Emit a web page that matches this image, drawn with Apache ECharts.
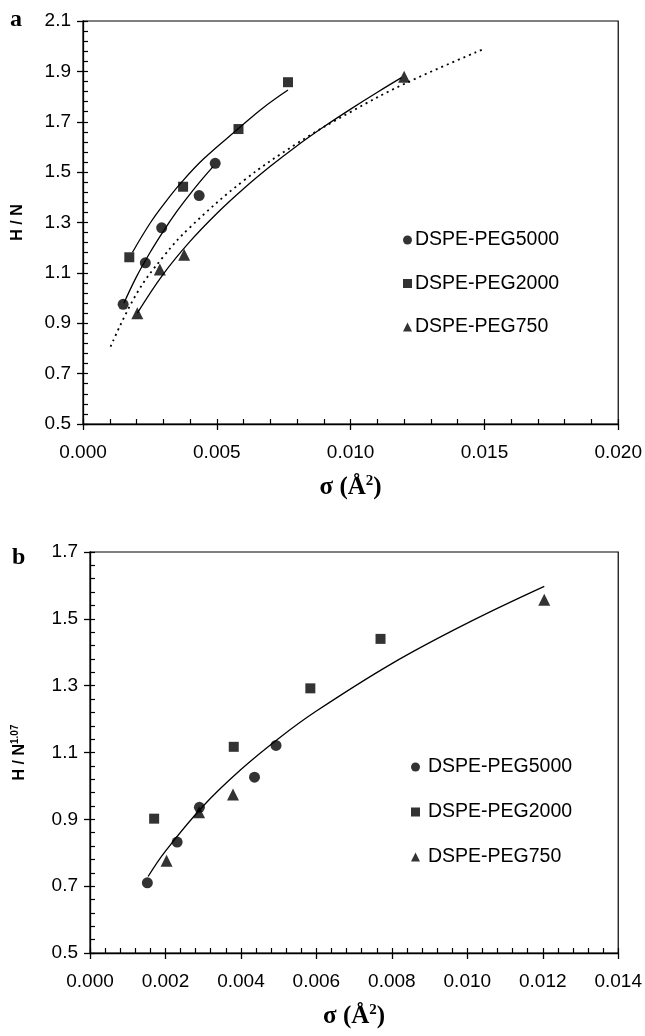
<!DOCTYPE html>
<html><head><meta charset="utf-8">
<script src="https://cdn.jsdelivr.net/npm/echarts@6/dist/echarts.min.js"></script>
<style>html,body{margin:0;padding:0;background:#fff}#c{width:645px;height:1036px}</style>
</head><body><div id="c"></div>
<script>
const seriesNames = ['DSPE-PEG5000', 'DSPE-PEG2000', 'DSPE-PEG750'];

// Panel a: H / N vs sigma
const a_peg5000 = [[0.00150,0.975],[0.00233,1.140],[0.00294,1.279],[0.00434,1.407],[0.00494,1.535]];
const a_peg2000 = [[0.00173,1.162],[0.00374,1.442],[0.00581,1.671],[0.00766,1.857]];
const a_peg750  = [[0.00203,0.940],[0.00287,1.113],[0.00378,1.172],[0.01200,1.879]];
const a_fit5000 = [[0.00153,0.980],[0.0020,1.085],[0.0025,1.180],[0.0030,1.265],[0.0035,1.343],[0.0040,1.413],[0.0045,1.478],[0.00486,1.522]];
const a_fit2000 = [[0.00185,1.182],[0.0025,1.296],[0.0030,1.370],[0.0037,1.462],[0.0045,1.552],[0.0058,1.672],[0.0067,1.753],[0.00766,1.826]];
const a_fit750  = [[0.00203,0.940],[0.0030,1.095],[0.0040,1.225],[0.0050,1.336],[0.0060,1.434],[0.0070,1.523],[0.0080,1.605],[0.0090,1.680],[0.0100,1.750],[0.0110,1.817],[0.0119,1.875]];
const a_fitAll  = [[0.00103,0.807],[0.0020,1.017],[0.0030,1.164],[0.0040,1.281],[0.0060,1.466],[0.0080,1.614],[0.0100,1.739],[0.0120,1.850],[0.0150,1.990]];
const a_xTicks = [0, 0.005, 0.010, 0.015, 0.020];
const a_yTicks = [0.5, 0.7, 0.9, 1.1, 1.3, 1.5, 1.7, 1.9, 2.1];

// Panel b: H / N^1.07 vs sigma
const b_peg5000 = [[0.00152,0.710],[0.00231,0.832],[0.00290,0.936],[0.00436,1.026],[0.00493,1.121]];
const b_peg2000 = [[0.00170,0.902],[0.00381,1.117],[0.00584,1.292],[0.00770,1.440]];
const b_peg750  = [[0.00203,0.776],[0.00289,0.921],[0.00379,0.974],[0.01204,1.557]];
const b_fit     = [[0.00154,0.729],[0.0020,0.805],[0.0030,0.940],[0.0040,1.049],[0.0050,1.142],[0.0060,1.224],[0.0080,1.366],[0.0100,1.487],[0.01204,1.597]];
const b_xTicks = [0, 0.002, 0.004, 0.006, 0.008, 0.010, 0.012, 0.014];
const b_yTicks = [0.5, 0.7, 0.9, 1.1, 1.3, 1.5, 1.7];

function minorOf(t) {
  const out = [];
  for (let i = 0; i < t.length - 1; i++) {
    for (let k = 0; k < 5; k++) out.push(+(t[i] + (t[i+1]-t[i]) * k / 5).toFixed(6));
  }
  out.push(t[t.length-1]);
  return out;
}

const FONT = 'Liberation Sans';
const SERIF = 'Liberation Serif';
const lblStyle = {color:'#000', fontSize:19, fontFamily:FONT};
const xNameRich = {
  s:{fontFamily:SERIF, fontWeight:'bold', fontSize:25, color:'#000'},
  sup:{fontFamily:SERIF, fontWeight:'bold', fontSize:15, color:'#000', verticalAlign:'top', padding:[0,0,12,0]}
};

function xMain(grid, ticks, dec) {
  return {gridIndex:grid, type:'value', min:ticks[0], max:ticks[ticks.length-1], position:'bottom',
    axisLine:{show:true, onZero:false, lineStyle:{color:'#000', width:1.3}},
    axisTick:{show:true, inside:false, length:6, customValues:ticks, lineStyle:{color:'#000', width:1.3}},
    axisLabel:{customValues:ticks, margin:19, formatter:v=>v.toFixed(dec), ...lblStyle},
    splitLine:{show:false},
    name:'{s|σ (Å}{sup|2}{s|)}', nameLocation:'middle', nameGap:50,
    nameTextStyle:{rich:xNameRich}};
}
function xMinor(grid, ticks) {
  return {gridIndex:grid, type:'value', min:ticks[0], max:ticks[ticks.length-1], position:'bottom',
    axisLine:{show:false}, axisLabel:{show:false}, splitLine:{show:false},
    axisTick:{show:true, inside:true, length:5, customValues:minorOf(ticks), lineStyle:{color:'#000', width:1.2}}};
}
function yMain(grid, ticks, name, gap, rich) {
  return {gridIndex:grid, type:'value', min:ticks[0], max:ticks[ticks.length-1], position:'left',
    axisLine:{show:true, onZero:false, lineStyle:{color:'#000', width:1.3}},
    axisTick:{show:true, inside:false, length:6, customValues:ticks, lineStyle:{color:'#000', width:1.3}},
    axisLabel:{customValues:ticks, margin:12, formatter:v=>v.toFixed(1), ...lblStyle},
    splitLine:{show:false},
    name:name, nameLocation:'middle', nameGap:gap,
    nameTextStyle:{fontFamily:FONT, fontWeight:'bold', fontSize:16, color:'#000', rich:rich}};
}
function yMinor(grid, ticks) {
  return {gridIndex:grid, type:'value', min:ticks[0], max:ticks[ticks.length-1], position:'left',
    axisLine:{show:false}, axisLabel:{show:false}, splitLine:{show:false},
    axisTick:{show:true, inside:true, length:5, customValues:minorOf(ticks), lineStyle:{color:'#000', width:1.2}}};
}

function scatter(name, data, xi, symbol, size) {
  return {name:name, type:'scatter', xAxisIndex:xi, yAxisIndex:xi, data:data, symbol:symbol, symbolSize:size,
    itemStyle:{color:'#000'}, z:5};
}
function fit(name, data, xi, dotted) {
  return {name:name, type:'line', xAxisIndex:xi, yAxisIndex:xi, data:data, smooth:0.4, showSymbol:false, symbol:'none',
    lineStyle:{color:'#000', width:dotted?1.8:1.3, type:dotted?[2,4]:'solid'}, z:3, silent:true};
}

const legendBase = {data:seriesNames, orient:'vertical', itemWidth:9, itemHeight:9, padding:0,
  textStyle:{fontSize:19.5, lineHeight:20, fontFamily:FONT, color:'#000'}};

const option = {
  animation:false,
  backgroundColor:'#fff',
  grid:[
    {left:83, top:21, width:536, height:403, show:true, borderColor:'#000', borderWidth:1.2, backgroundColor:'transparent'},
    {left:90, top:552, width:537, height:401, show:true, borderColor:'#000', borderWidth:1.2, backgroundColor:'transparent'}
  ],
  xAxis:[xMain(0, a_xTicks, 3), xMinor(0, a_xTicks), xMain(1, b_xTicks, 3), xMinor(1, b_xTicks)],
  yAxis:[
    yMain(0, a_yTicks, 'H / N', 57),
    yMinor(0, a_yTicks),
    yMain(1, b_yTicks, '{n|H / N}{sup|1.07}', 61, {
      n:{fontFamily:FONT, fontWeight:'bold', fontSize:16, color:'#000'},
      sup:{fontFamily:FONT, fontWeight:'bold', fontSize:10, color:'#000', verticalAlign:'top', padding:[0,0,9,0]}}),
    yMinor(1, b_yTicks)
  ],
  legend:[
    {...legendBase, left:403, top:230, itemGap:23.5, textStyle:{...legendBase.textStyle, padding:[0,0,0,-2]}},
    {...legendBase, left:411, top:757, itemGap:25, textStyle:{...legendBase.textStyle, padding:[0,0,0,3]}}
  ],
  graphic:[
    {type:'text', left:10, top:8, style:{text:'a', font:'bold 24px "Liberation Serif"', fill:'#000'}},
    {type:'text', left:12, top:546, style:{text:'b', font:'bold 24px "Liberation Serif"', fill:'#000'}}
  ],
  series:[
    fit('fit5000a', a_fit5000, 0, false),
    fit('fit2000a', a_fit2000, 0, false),
    fit('fit750a', a_fit750, 0, false),
    fit('fitAlla', a_fitAll, 0, true),
    scatter(seriesNames[0], a_peg5000, 0, 'circle', 11),
    scatter(seriesNames[1], a_peg2000, 0, 'rect', 10),
    scatter(seriesNames[2], a_peg750, 0, 'triangle', 12),
    fit('fitb', b_fit, 2, false),
    scatter(seriesNames[0], b_peg5000, 2, 'circle', 11),
    scatter(seriesNames[1], b_peg2000, 2, 'rect', 10),
    scatter(seriesNames[2], b_peg750, 2, 'triangle', 12)
  ]
};
const chart = echarts.init(document.getElementById('c'), null, {renderer:'canvas'});
chart.setOption(option);
</script>
</body></html>
